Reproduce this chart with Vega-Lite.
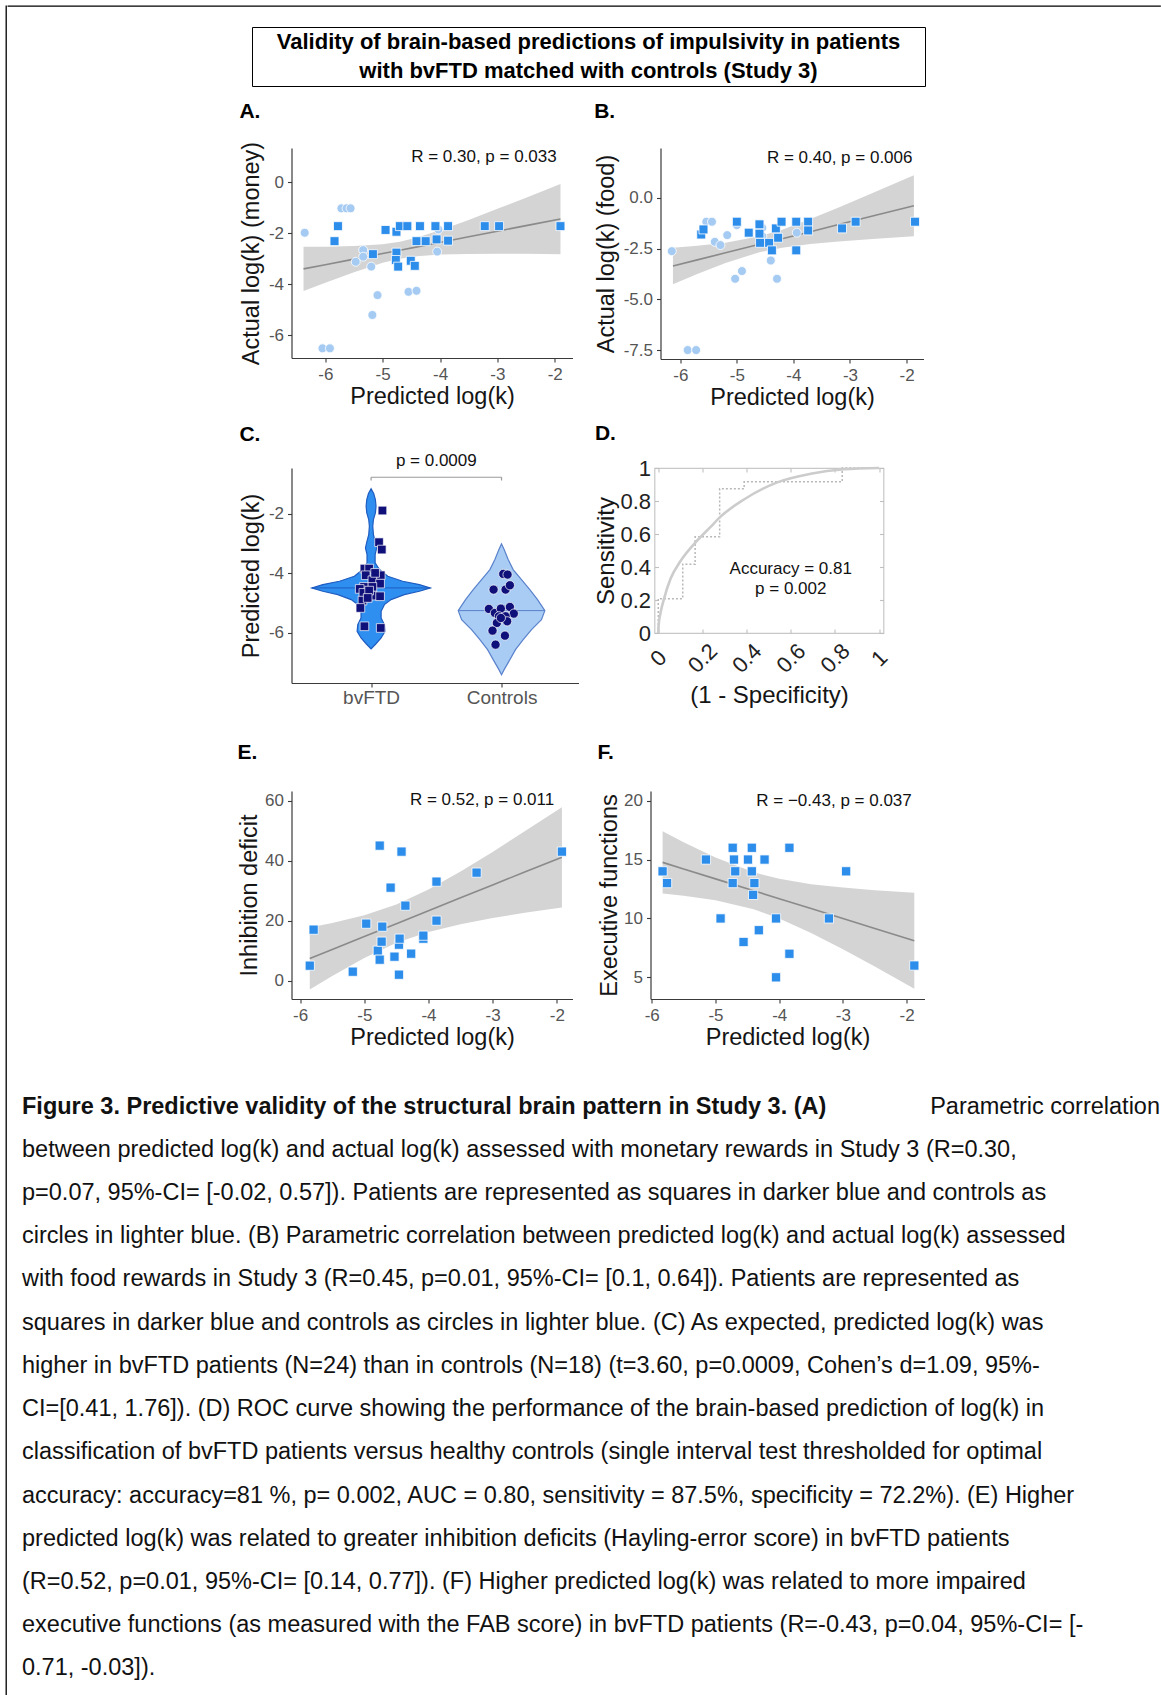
{
  "$schema": "https://vega.github.io/schema/vega-lite/v6.json",
  "background": "white",
  "padding": {"left": 5, "top": 5, "right": 0, "bottom": 0},
  "config": {
    "font": "Liberation Sans",
    "view": {"stroke": null},
    "axis": {"grid": false, "domainColor": "#3a3a3a", "domainWidth": 1.2, "tickColor": "#3a3a3a", "tickSize": 4, "tickWidth": 1.1, "labelColor": "#555555", "labelFontSize": 17, "labelPadding": 4, "labelFlush": false, "labelOverlap": false, "titleFontSize": 23.5, "titleFontWeight": "normal", "titleColor": "#151515"},
    "axisX": {"titlePadding": 2},
    "axisY": {"titlePadding": 5},
    "title": {"anchor": "start", "frame": "bounds", "fontSize": 21, "fontWeight": "bold", "color": "#000000"}
  },
  "datasets": {
    "ptsA": [
      {"x": -6.36, "y": -1.98, "g": "c"}, {"x": -5.72, "y": -1.02, "g": "c"}, {"x": -5.63, "y": -1.02, "g": "c"}, {"x": -5.56, "y": -1.02, "g": "c"}, {"x": -5.47, "y": -3.12, "g": "c"}, {"x": -5.34, "y": -2.66, "g": "c"}, {"x": -5.34, "y": -2.92, "g": "c"}, {"x": -5.2, "y": -3.31, "g": "c"}, {"x": -5.09, "y": -4.43, "g": "c"}, {"x": -5.18, "y": -5.21, "g": "c"}, {"x": -6.05, "y": -6.52, "g": "c"}, {"x": -5.92, "y": -6.52, "g": "c"}, {"x": -4.55, "y": -4.3, "g": "c"}, {"x": -4.41, "y": -4.26, "g": "c"}, {"x": -4.05, "y": -2.72, "g": "c"}, {"x": -4.03, "y": -1.85, "g": "c"},
      {"x": -5.78, "y": -1.72, "g": "p"}, {"x": -5.84, "y": -2.31, "g": "p"}, {"x": -5.17, "y": -2.82, "g": "p"}, {"x": -4.95, "y": -1.87, "g": "p"}, {"x": -4.76, "y": -1.94, "g": "p"}, {"x": -4.76, "y": -2.76, "g": "p"}, {"x": -4.77, "y": -3.05, "g": "p"}, {"x": -4.73, "y": -3.31, "g": "p"}, {"x": -4.7, "y": -1.72, "g": "p"}, {"x": -4.57, "y": -1.72, "g": "p"}, {"x": -4.51, "y": -3.08, "g": "p"}, {"x": -4.44, "y": -3.28, "g": "p"}, {"x": -4.41, "y": -2.31, "g": "p"}, {"x": -4.35, "y": -1.72, "g": "p"}, {"x": -4.25, "y": -2.31, "g": "p"}, {"x": -4.08, "y": -1.72, "g": "p"}, {"x": -4.06, "y": -2.24, "g": "p"}, {"x": -3.86, "y": -1.72, "g": "p"}, {"x": -3.86, "y": -2.29, "g": "p"}, {"x": -3.22, "y": -1.72, "g": "p"}, {"x": -2.97, "y": -1.72, "g": "p"}, {"x": -1.9, "y": -1.72, "g": "p"}
    ],
    "bandA": [
      {"x": -6.38, "fit": -3.4, "lo": -4.27, "hi": -2.53}, {"x": -6.0, "fit": -3.234, "lo": -3.94, "hi": -2.53}, {"x": -5.5, "fit": -3.015, "lo": -3.53, "hi": -2.5}, {"x": -5.0, "fit": -2.796, "lo": -3.16, "hi": -2.43}, {"x": -4.7, "fit": -2.665, "lo": -3.0, "hi": -2.33}, {"x": -4.4, "fit": -2.534, "lo": -2.9, "hi": -2.17}, {"x": -4.0, "fit": -2.359, "lo": -2.83, "hi": -1.88}, {"x": -3.5, "fit": -2.14, "lo": -2.81, "hi": -1.48}, {"x": -3.0, "fit": -1.921, "lo": -2.8, "hi": -1.04}, {"x": -2.5, "fit": -1.7, "lo": -2.8, "hi": -0.6}, {"x": -1.9, "fit": -1.44, "lo": -2.82, "hi": -0.06}
    ],
    "ptsB": [
      {"x": -6.15, "y": -2.63, "g": "c"}, {"x": -5.87, "y": -7.5, "g": "c"}, {"x": -5.72, "y": -7.5, "g": "c"}, {"x": -5.54, "y": -1.18, "g": "c"}, {"x": -5.44, "y": -1.18, "g": "c"}, {"x": -5.39, "y": -2.17, "g": "c"}, {"x": -5.29, "y": -2.33, "g": "c"}, {"x": -5.17, "y": -1.84, "g": "c"}, {"x": -5.03, "y": -3.99, "g": "c"}, {"x": -4.91, "y": -3.61, "g": "c"}, {"x": -5.0, "y": -1.35, "g": "c"}, {"x": -4.55, "y": -1.89, "g": "c"}, {"x": -4.4, "y": -3.09, "g": "c"}, {"x": -4.29, "y": -3.99, "g": "c"}, {"x": -3.94, "y": -1.72, "g": "c"}, {"x": -4.55, "y": -1.48, "g": "c"},
      {"x": -5.63, "y": -1.81, "g": "p"}, {"x": -5.59, "y": -1.56, "g": "p"}, {"x": -5.0, "y": -1.18, "g": "p"}, {"x": -4.79, "y": -1.72, "g": "p"}, {"x": -4.6, "y": -1.31, "g": "p"}, {"x": -4.6, "y": -1.77, "g": "p"}, {"x": -4.59, "y": -2.22, "g": "p"}, {"x": -4.43, "y": -2.22, "g": "p"}, {"x": -4.38, "y": -2.59, "g": "p"}, {"x": -4.31, "y": -1.51, "g": "p"}, {"x": -4.27, "y": -1.97, "g": "p"}, {"x": -4.21, "y": -1.18, "g": "p"}, {"x": -3.95, "y": -1.18, "g": "p"}, {"x": -3.95, "y": -2.59, "g": "p"}, {"x": -3.74, "y": -1.18, "g": "p"}, {"x": -3.74, "y": -1.61, "g": "p"}, {"x": -3.14, "y": -1.51, "g": "p"}, {"x": -2.9, "y": -1.18, "g": "p"}, {"x": -1.85, "y": -1.18, "g": "p"}
    ],
    "bandB": [
      {"x": -6.13, "fit": -3.36, "lo": -4.26, "hi": -2.46}, {"x": -5.7, "fit": -3.06, "lo": -3.76, "hi": -2.36}, {"x": -5.2, "fit": -2.71, "lo": -3.21, "hi": -2.21}, {"x": -4.6, "fit": -2.29, "lo": -2.68, "hi": -1.9}, {"x": -4.2, "fit": -2.015, "lo": -2.46, "hi": -1.57}, {"x": -3.7, "fit": -1.67, "lo": -2.28, "hi": -1.05}, {"x": -3.2, "fit": -1.32, "lo": -2.16, "hi": -0.48}, {"x": -2.6, "fit": -0.9, "lo": -2.03, "hi": 0.23}, {"x": -1.87, "fit": -0.39, "lo": -1.89, "hi": 1.11}
    ],
    "violin": [
      {"g": "bvFTD", "y": -1.16, "lo": 1, "hi": 1}, {"g": "bvFTD", "y": -1.317, "lo": 0.98, "hi": 1.02}, {"g": "bvFTD", "y": -1.518, "lo": 0.967, "hi": 1.033}, {"g": "bvFTD", "y": -1.742, "lo": 0.962, "hi": 1.038}, {"g": "bvFTD", "y": -1.966, "lo": 0.967, "hi": 1.033}, {"g": "bvFTD", "y": -2.19, "lo": 0.982, "hi": 1.018}, {"g": "bvFTD", "y": -2.415, "lo": 0.987, "hi": 1.013}, {"g": "bvFTD", "y": -2.695, "lo": 0.982, "hi": 1.018}, {"g": "bvFTD", "y": -2.952, "lo": 0.967, "hi": 1.033}, {"g": "bvFTD", "y": -3.143, "lo": 0.957, "hi": 1.043}, {"g": "bvFTD", "y": -3.367, "lo": 0.969, "hi": 1.031}, {"g": "bvFTD", "y": -3.647, "lo": 0.969, "hi": 1.031}, {"g": "bvFTD", "y": -3.871, "lo": 0.936, "hi": 1.064}, {"g": "bvFTD", "y": -4.095, "lo": 0.872, "hi": 1.128}, {"g": "bvFTD", "y": -4.263, "lo": 0.758, "hi": 1.242}, {"g": "bvFTD", "y": -4.375, "lo": 0.63, "hi": 1.37}, {"g": "bvFTD", "y": -4.487, "lo": 0.546, "hi": 1.454}, {"g": "bvFTD", "y": -4.599, "lo": 0.63, "hi": 1.37}, {"g": "bvFTD", "y": -4.711, "lo": 0.745, "hi": 1.255}, {"g": "bvFTD", "y": -4.88, "lo": 0.847, "hi": 1.153}, {"g": "bvFTD", "y": -5.048, "lo": 0.898, "hi": 1.102}, {"g": "bvFTD", "y": -5.272, "lo": 0.923, "hi": 1.077}, {"g": "bvFTD", "y": -5.496, "lo": 0.923, "hi": 1.077}, {"g": "bvFTD", "y": -5.72, "lo": 0.898, "hi": 1.102}, {"g": "bvFTD", "y": -5.944, "lo": 0.893, "hi": 1.107}, {"g": "bvFTD", "y": -6.168, "lo": 0.923, "hi": 1.077}, {"g": "bvFTD", "y": -6.37, "lo": 0.964, "hi": 1.036}, {"g": "bvFTD", "y": -6.538, "lo": 1, "hi": 1},
      {"g": "Controls", "y": -3.008, "lo": 2, "hi": 2}, {"g": "Controls", "y": -3.199, "lo": 1.98, "hi": 2.02}, {"g": "Controls", "y": -3.535, "lo": 1.949, "hi": 2.051}, {"g": "Controls", "y": -3.871, "lo": 1.911, "hi": 2.089}, {"g": "Controls", "y": -4.207, "lo": 1.847, "hi": 2.153}, {"g": "Controls", "y": -4.543, "lo": 1.783, "hi": 2.217}, {"g": "Controls", "y": -4.88, "lo": 1.724, "hi": 2.276}, {"g": "Controls", "y": -5.249, "lo": 1.668, "hi": 2.332}, {"g": "Controls", "y": -5.552, "lo": 1.694, "hi": 2.306}, {"g": "Controls", "y": -5.888, "lo": 1.77, "hi": 2.23}, {"g": "Controls", "y": -6.224, "lo": 1.834, "hi": 2.166}, {"g": "Controls", "y": -6.56, "lo": 1.893, "hi": 2.107}, {"g": "Controls", "y": -6.896, "lo": 1.936, "hi": 2.064}, {"g": "Controls", "y": -7.232, "lo": 1.98, "hi": 2.02}, {"g": "Controls", "y": -7.401, "lo": 2, "hi": 2}
    ],
    "medians": [
      {"g": "bvFTD", "m": -4.487, "lo": 0.546, "hi": 1.454},
      {"g": "Controls", "m": -5.249, "lo": 1.668, "hi": 2.332}
    ],
    "ptsC": [
      {"g": "bvFTD", "x": 1.087, "y": -1.888}, {"g": "bvFTD", "x": 1.061, "y": -2.952}, {"g": "bvFTD", "x": 1.082, "y": -3.199}, {"g": "bvFTD", "x": 0.949, "y": -3.838}, {"g": "bvFTD", "x": 0.985, "y": -3.838}, {"g": "bvFTD", "x": 0.959, "y": -4.062}, {"g": "bvFTD", "x": 1.074, "y": -4.062}, {"g": "bvFTD", "x": 1.01, "y": -4.23}, {"g": "bvFTD", "x": 1.069, "y": -4.342}, {"g": "bvFTD", "x": 0.946, "y": -4.454}, {"g": "bvFTD", "x": 1.01, "y": -4.454}, {"g": "bvFTD", "x": 0.913, "y": -4.521}, {"g": "bvFTD", "x": 0.941, "y": -4.655}, {"g": "bvFTD", "x": 1.01, "y": -4.745}, {"g": "bvFTD", "x": 1.069, "y": -4.767}, {"g": "bvFTD", "x": 0.934, "y": -4.913}, {"g": "bvFTD", "x": 0.918, "y": -5.16}, {"g": "bvFTD", "x": 0.949, "y": -5.776}, {"g": "bvFTD", "x": 1.074, "y": -5.832}, {"g": "bvFTD", "x": 1.031, "y": -3.983}, {"g": "bvFTD", "x": 0.985, "y": -4.577}, {"g": "bvFTD", "x": 0.974, "y": -4.824},
      {"g": "Controls", "x": 2.013, "y": -4.017}, {"g": "Controls", "x": 2.046, "y": -4.039}, {"g": "Controls", "x": 1.939, "y": -4.543}, {"g": "Controls", "x": 2.031, "y": -4.543}, {"g": "Controls", "x": 2.064, "y": -4.398}, {"g": "Controls", "x": 1.903, "y": -5.193}, {"g": "Controls", "x": 1.949, "y": -5.328}, {"g": "Controls", "x": 1.995, "y": -5.182}, {"g": "Controls", "x": 2.064, "y": -5.126}, {"g": "Controls", "x": 2.094, "y": -5.35}, {"g": "Controls", "x": 1.98, "y": -5.44}, {"g": "Controls", "x": 2.031, "y": -5.44}, {"g": "Controls", "x": 2.043, "y": -5.608}, {"g": "Controls", "x": 1.964, "y": -5.664}, {"g": "Controls", "x": 1.931, "y": -5.922}, {"g": "Controls", "x": 2.026, "y": -6.09}, {"g": "Controls", "x": 1.954, "y": -6.392}, {"g": "Controls", "x": 1.995, "y": -5.496}
    ],
    "bracket": [
      {"x": 1, "x2": 2, "y": -0.77, "y2": -0.77}, {"x": 1, "x2": 1, "y": -0.77, "y2": -0.88}, {"x": 2, "x2": 2, "y": -0.77, "y2": -0.88}
    ],
    "rocSteps": [
      {"i": 0, "x": 0, "y": 0}, {"i": 1, "x": 0, "y": 0.208}, {"i": 2, "x": 0.111, "y": 0.208}, {"i": 3, "x": 0.111, "y": 0.417}, {"i": 4, "x": 0.167, "y": 0.417}, {"i": 5, "x": 0.167, "y": 0.583}, {"i": 6, "x": 0.278, "y": 0.583}, {"i": 7, "x": 0.278, "y": 0.875}, {"i": 8, "x": 0.389, "y": 0.875}, {"i": 9, "x": 0.389, "y": 0.917}, {"i": 10, "x": 0.833, "y": 0.917}, {"i": 11, "x": 0.833, "y": 1}, {"i": 12, "x": 1, "y": 1}
    ],
    "rocSmooth": [
      {"x": 0, "y": 0}, {"x": 0.002, "y": 0.05}, {"x": 0.0106, "y": 0.124}, {"x": 0.026, "y": 0.207}, {"x": 0.056, "y": 0.33}, {"x": 0.101, "y": 0.436}, {"x": 0.162, "y": 0.539}, {"x": 0.237, "y": 0.643}, {"x": 0.282, "y": 0.705}, {"x": 0.388, "y": 0.809}, {"x": 0.539, "y": 0.913}, {"x": 0.69, "y": 0.965}, {"x": 0.841, "y": 0.992}, {"x": 1, "y": 1}
    ],
    "ptsE": [
      {"x": -5.85, "y": 5}, {"x": -5.79, "y": 17}, {"x": -5.18, "y": 3}, {"x": -4.97, "y": 19}, {"x": -4.76, "y": 45}, {"x": -4.79, "y": 10}, {"x": -4.76, "y": 7}, {"x": -4.73, "y": 13}, {"x": -4.72, "y": 18}, {"x": -4.59, "y": 31}, {"x": -4.53, "y": 8}, {"x": -4.46, "y": 12}, {"x": -4.46, "y": 2}, {"x": -4.45, "y": 14}, {"x": -4.42, "y": 43}, {"x": -4.36, "y": 25}, {"x": -4.27, "y": 9}, {"x": -4.08, "y": 14}, {"x": -4.08, "y": 15}, {"x": -3.875, "y": 33}, {"x": -3.875, "y": 20}, {"x": -3.25, "y": 36}, {"x": -1.92, "y": 43}
    ],
    "bandE": [
      {"x": -5.85, "fit": 7.4, "lo": -2.9, "hi": 17.7}, {"x": -5.5, "fit": 10.4, "lo": 1.6, "hi": 19.2}, {"x": -5.0, "fit": 14.7, "lo": 7.6, "hi": 21.8}, {"x": -4.5, "fit": 19.0, "lo": 12.6, "hi": 25.4}, {"x": -4.0, "fit": 23.3, "lo": 16.2, "hi": 30.4}, {"x": -3.5, "fit": 27.6, "lo": 18.8, "hi": 36.4}, {"x": -3.0, "fit": 31.9, "lo": 20.9, "hi": 42.9}, {"x": -2.5, "fit": 36.2, "lo": 22.6, "hi": 49.8}, {"x": -1.92, "fit": 41.1, "lo": 24.4, "hi": 57.8}
    ],
    "ptsF": [
      {"x": -5.83, "y": 14}, {"x": -5.76, "y": 13}, {"x": -5.15, "y": 15}, {"x": -4.92, "y": 10}, {"x": -4.73, "y": 16}, {"x": -4.71, "y": 15}, {"x": -4.69, "y": 14}, {"x": -4.73, "y": 13}, {"x": -4.56, "y": 8}, {"x": -4.49, "y": 15}, {"x": -4.43, "y": 16}, {"x": -4.43, "y": 14}, {"x": -4.39, "y": 13}, {"x": -4.41, "y": 12}, {"x": -4.32, "y": 9}, {"x": -4.23, "y": 15}, {"x": -4.05, "y": 10}, {"x": -4.05, "y": 5}, {"x": -3.84, "y": 16}, {"x": -3.84, "y": 7}, {"x": -3.22, "y": 10}, {"x": -2.95, "y": 14}, {"x": -1.88, "y": 6}
    ],
    "bandF": [
      {"x": -5.83, "fit": 14.76, "lo": 12.11, "hi": 17.41}, {"x": -5.5, "fit": 14.2, "lo": 11.93, "hi": 16.47}, {"x": -5.0, "fit": 13.36, "lo": 11.55, "hi": 15.17}, {"x": -4.4, "fit": 12.35, "lo": 10.78, "hi": 13.92}, {"x": -4.0, "fit": 11.68, "lo": 10.0, "hi": 13.36}, {"x": -3.5, "fit": 10.84, "lo": 8.77, "hi": 12.91}, {"x": -3.0, "fit": 10.0, "lo": 7.38, "hi": 12.62}, {"x": -2.5, "fit": 9.15, "lo": 5.91, "hi": 12.39}, {"x": -1.88, "fit": 8.11, "lo": 4.03, "hi": 12.19}
    ],
    "titleLines": [
      {"l": 1, "t": "Validity of brain-based predictions of impulsivity in patients"},
      {"l": 2, "t": "with bvFTD matched with controls (Study 3)"}
    ],
    "caption": [
      {"line": 1, "k": "B", "t": "Figure 3. Predictive validity of the structural brain pattern in Study 3. (A)"},
      {"line": 1, "k": "R", "t": "Parametric correlation"},
      {"line": 2, "k": "L", "t": "between predicted log(k) and actual log(k) assessed with monetary rewards in Study 3 (R=0.30,"},
      {"line": 3, "k": "L", "t": "p=0.07, 95%-CI= [-0.02, 0.57]). Patients are represented as squares in darker blue and controls as"},
      {"line": 4, "k": "L", "t": "circles in lighter blue. (B) Parametric correlation between predicted log(k) and actual log(k) assessed"},
      {"line": 5, "k": "L", "t": "with food rewards in Study 3 (R=0.45, p=0.01, 95%-CI= [0.1, 0.64]). Patients are represented as"},
      {"line": 6, "k": "L", "t": "squares in darker blue and controls as circles in lighter blue. (C) As expected, predicted log(k) was"},
      {"line": 7, "k": "L", "t": "higher in bvFTD patients (N=24) than in controls (N=18) (t=3.60, p=0.0009, Cohen’s d=1.09, 95%-"},
      {"line": 8, "k": "L", "t": "CI=[0.41, 1.76]). (D) ROC curve showing the performance of the brain-based prediction of log(k) in"},
      {"line": 9, "k": "L", "t": "classification of bvFTD patients versus healthy controls (single interval test thresholded for optimal"},
      {"line": 10, "k": "L", "t": "accuracy: accuracy=81 %, p= 0.002, AUC = 0.80, sensitivity = 87.5%, specificity = 72.2%). (E) Higher"},
      {"line": 11, "k": "L", "t": "predicted log(k) was related to greater inhibition deficits (Hayling-error score) in bvFTD patients"},
      {"line": 12, "k": "L", "t": "(R=0.52, p=0.01, 95%-CI= [0.14, 0.77]). (F) Higher predicted log(k) was related to more impaired"},
      {"line": 13, "k": "L", "t": "executive functions (as measured with the FAB score) in bvFTD patients (R=-0.43, p=0.04, 95%-CI= [-"},
      {"line": 14, "k": "L", "t": "0.71, -0.03])."}
    ]
  },
  "spacing": 0,
  "hconcat": [
    {"width": 0.01, "height": 1690, "view": {"stroke": "#000000", "strokeWidth": 1.3}, "data": {"values": []}, "mark": "text", "encoding": {"text": {"value": ""}}},
    {
      "spacing": 19,
      "vconcat": [
        {"width": 1152, "height": 0.01, "view": {"stroke": "#000000", "strokeWidth": 1.3}, "data": {"values": []}, "mark": "text", "encoding": {"text": {"value": ""}}},
        {
          "spacing": 13,
          "hconcat": [
            {"width": 0.01, "height": 0.01, "data": {"values": []}, "mark": "text", "encoding": {"text": {"value": ""}}},
            {
              "spacing": 36,
              "vconcat": [
                {
                  "spacing": 200,
                  "hconcat": [
                    {"width": 0.01, "height": 0.01, "data": {"values": []}, "mark": "text", "encoding": {"text": {"value": ""}}},
                    {
                      "spacing": 14,
                      "vconcat": [
                        {
                          "spacing": 27,
                          "hconcat": [
                            {"width": 0.01, "height": 0.01, "data": {"values": []}, "mark": "text", "encoding": {"text": {"value": ""}}},
                            {"width": 673, "height": 59, "view": {"stroke": "#000000", "strokeWidth": 1}, "data": {"name": "titleLines"},
                             "mark": {"type": "text", "fontSize": 22, "fontWeight": "bold", "align": "center", "baseline": "middle", "color": "#000000"},
                             "encoding": {"y": {"field": "l", "type": "ordinal", "axis": null, "scale": {"paddingInner": 0, "paddingOuter": 0.135}}, "text": {"field": "t"}}}
                          ]
                        },
                        {
                          "spacing": 13.5,
                          "hconcat": [
                            {"width": 0.01, "height": 0.01, "data": {"values": []}, "mark": "text", "encoding": {"text": {"value": ""}}},
                            {
                              "spacing": 33,
                              "vconcat": [
                                {
                                  "spacing": 12,
                                  "vconcat": [
                                    {
                                      "spacing": 21,
                                      "hconcat": [
                                        {
                                          "width": 281, "height": 210,
                                          "title": {"text": "A.", "offset": 19},
                                          "layer": [
                                            {"data": {"name": "bandA"}, "mark": {"type": "area", "color": "#d4d4d4", "opacity": 1},
                                             "encoding": {
                                               "x": {"field": "x", "type": "quantitative", "scale": {"domain": [-6.59, -1.69], "nice": false, "zero": false}, "axis": {"title": "Predicted log(k)", "values": [-6, -5, -4, -3, -2], "labelExpr": "toString(datum.value)"}},
                                               "y": {"field": "lo", "type": "quantitative", "scale": {"domain": [-6.9, 1.35], "nice": false, "zero": false}, "axis": {"title": "Actual log(k) (money)", "values": [0, -2, -4, -6], "labelExpr": "toString(datum.value)"}},
                                               "y2": {"field": "hi"}}},
                                            {"data": {"name": "bandA"}, "mark": {"type": "line", "color": "#8a8a8a", "strokeWidth": 1.6},
                                             "encoding": {"x": {"field": "x", "type": "quantitative"}, "y": {"field": "fit", "type": "quantitative"}}},
                                            {"data": {"name": "ptsA"}, "mark": {"type": "point", "filled": true, "opacity": 1, "size": 80, "stroke": "white", "strokeWidth": 0.8},
                                             "encoding": {"x": {"field": "x", "type": "quantitative"}, "y": {"field": "y", "type": "quantitative"},
                                               "shape": {"field": "g", "type": "nominal", "scale": {"domain": ["c", "p"], "range": ["circle", "square"]}, "legend": null},
                                               "color": {"field": "g", "type": "nominal", "scale": {"domain": ["c", "p"], "range": ["#a5cbf3", "#2d8deb"]}, "legend": null}}},
                                            {"data": {"values": [{}]}, "mark": {"type": "text", "align": "right", "baseline": "middle", "fontSize": 17, "color": "#111111"},
                                             "encoding": {"x": {"datum": -1.965}, "y": {"datum": 1.0}, "text": {"value": "R = 0.30, p = 0.033"}}}
                                          ]
                                        },
                                        {
                                          "width": 263, "height": 211,
                                          "title": {"text": "B.", "offset": 26},
                                          "layer": [
                                            {"data": {"name": "bandB"}, "mark": {"type": "area", "color": "#d4d4d4", "opacity": 1},
                                             "encoding": {
                                               "x": {"field": "x", "type": "quantitative", "scale": {"domain": [-6.35, -1.7], "nice": false, "zero": false}, "axis": {"title": "Predicted log(k)", "values": [-6, -5, -4, -3, -2], "labelExpr": "toString(datum.value)"}},
                                               "y": {"field": "lo", "type": "quantitative", "scale": {"domain": [-7.94, 2.45], "nice": false, "zero": false}, "axis": {"title": "Actual log(k) (food)", "values": [0, -2.5, -5, -7.5], "labelExpr": "replace(format(datum.value, '.1f'), '\u2212', '-')"}},
                                               "y2": {"field": "hi"}}},
                                            {"data": {"name": "bandB"}, "mark": {"type": "line", "color": "#8a8a8a", "strokeWidth": 1.6},
                                             "encoding": {"x": {"field": "x", "type": "quantitative"}, "y": {"field": "fit", "type": "quantitative"}}},
                                            {"data": {"name": "ptsB"}, "mark": {"type": "point", "filled": true, "opacity": 1, "size": 80, "stroke": "white", "strokeWidth": 0.8},
                                             "encoding": {"x": {"field": "x", "type": "quantitative"}, "y": {"field": "y", "type": "quantitative"},
                                               "shape": {"field": "g", "type": "nominal", "scale": {"domain": ["c", "p"], "range": ["circle", "square"]}, "legend": null},
                                               "color": {"field": "g", "type": "nominal", "scale": {"domain": ["c", "p"], "range": ["#a5cbf3", "#2d8deb"]}, "legend": null}}},
                                            {"data": {"values": [{}]}, "mark": {"type": "text", "align": "right", "baseline": "middle", "fontSize": 17, "color": "#111111"},
                                             "encoding": {"x": {"datum": -1.895}, "y": {"datum": 1.97}, "text": {"value": "R = 0.40, p = 0.006"}}}
                                          ]
                                        }
                                      ]
                                    },
                                    {
                                      "spacing": 15,
                                      "hconcat": [
                                        {
                                          "width": 287, "height": 215,
                                          "title": {"text": "C.", "offset": 7},
                                          "layer": [
                                            {"data": {"name": "violin"}, "mark": {"type": "area", "orient": "horizontal", "strokeWidth": 1.2, "opacity": 1},
                                             "encoding": {
                                               "y": {"field": "y", "type": "quantitative", "scale": {"domain": [-7.68, -0.46], "nice": false, "zero": false}, "axis": {"title": "Predicted log(k)", "values": [-2, -4, -6], "labelExpr": "toString(datum.value)"}},
                                               "x": {"field": "lo", "type": "quantitative", "scale": {"domain": [0.39, 2.59], "nice": false, "zero": false}, "axis": {"title": null, "values": [1, 2], "labelExpr": "datum.value == 1 ? 'bvFTD' : 'Controls'", "labelFontSize": 19, "labelPadding": 1}},
                                               "x2": {"field": "hi"},
                                               "fill": {"field": "g", "type": "nominal", "scale": {"domain": ["bvFTD", "Controls"], "range": ["#2f8ff0", "#a8ccf4"]}, "legend": null},
                                               "stroke": {"field": "g", "type": "nominal", "scale": {"domain": ["bvFTD", "Controls"], "range": ["#1f5cc0", "#5a82cc"]}, "legend": null}}},
                                            {"data": {"name": "medians"}, "mark": {"type": "rule", "strokeWidth": 1},
                                             "encoding": {"x": {"field": "lo", "type": "quantitative"}, "x2": {"field": "hi"}, "y": {"field": "m", "type": "quantitative"},
                                               "stroke": {"field": "g", "type": "nominal", "legend": null}}},
                                            {"data": {"name": "ptsC"}, "transform": [{"filter": "datum.g == 'bvFTD'"}], "mark": {"type": "square", "size": 75, "color": "#10107a", "opacity": 1, "stroke": "white", "strokeWidth": 0.7},
                                             "encoding": {"x": {"field": "x", "type": "quantitative"}, "y": {"field": "y", "type": "quantitative"}}},
                                            {"data": {"name": "ptsC"}, "transform": [{"filter": "datum.g == 'Controls'"}], "mark": {"type": "circle", "size": 85, "color": "#10107a", "opacity": 1, "stroke": "white", "strokeWidth": 0.7},
                                             "encoding": {"x": {"field": "x", "type": "quantitative"}, "y": {"field": "y", "type": "quantitative"}}},
                                            {"data": {"name": "bracket"}, "mark": {"type": "rule", "color": "#9a9a9a", "strokeWidth": 1.2},
                                             "encoding": {"x": {"field": "x", "type": "quantitative"}, "x2": {"field": "x2"}, "y": {"field": "y", "type": "quantitative"}, "y2": {"field": "y2"}}},
                                            {"data": {"values": [{}]}, "mark": {"type": "text", "align": "center", "baseline": "alphabetic", "fontSize": 17, "color": "#111111"},
                                             "encoding": {"x": {"datum": 1.5}, "y": {"datum": -0.4}, "text": {"value": "p = 0.0009"}}}
                                          ]
                                        },
                                        {
                                          "width": 229, "height": 165,
                                          "title": {"text": "D.", "offset": 13.5},
                                          "view": {"stroke": "#c8c8c8", "strokeWidth": 1.2},
                                          "resolve": {"axis": {"x": "independent", "y": "independent"}},
                                          "layer": [
                                            {"data": {"name": "rocSteps"}, "mark": {"type": "line", "color": "#b8b8b8", "strokeWidth": 1.5, "strokeDash": [2, 2]},
                                             "encoding": {
                                               "x": {"field": "x", "type": "quantitative", "scale": {"domain": [-0.017, 1.02], "nice": false, "zero": false},
                                                     "axis": {"title": "(1 - Specificity)", "values": [0, 0.2, 0.4, 0.6, 0.8, 1], "format": "~g", "labelAngle": -45, "labelAlign": "center", "labelBaseline": "middle", "labelFontSize": 22, "labelColor": "#222222", "labelPadding": 29, "labelOverlap": false, "domain": false, "tickSize": -4, "tickColor": "#c0c0c0", "titlePadding": 7, "titleFontSize": 24}},
                                               "y": {"field": "y", "type": "quantitative", "scale": {"domain": [0, 1], "nice": false},
                                                     "axis": {"title": "Sensitivity", "values": [0, 0.2, 0.4, 0.6, 0.8, 1], "format": "~g", "labelFontSize": 22, "labelColor": "#222222", "labelPadding": 8, "labelOverlap": false, "domain": false, "tickSize": -4, "tickColor": "#c0c0c0", "titlePadding": 1, "titleFontSize": 24}},
                                               "order": {"field": "i", "type": "quantitative"}}},
                                            {"data": {"name": "rocSmooth"}, "mark": {"type": "line", "color": "#cccccc", "strokeWidth": 2.6, "interpolate": "monotone"},
                                             "encoding": {
                                               "x": {"field": "x", "type": "quantitative", "axis": {"orient": "top", "title": null, "labels": false, "domain": false, "values": [0, 0.2, 0.4, 0.6, 0.8, 1], "tickSize": -4, "tickColor": "#c0c0c0"}},
                                               "y": {"field": "y", "type": "quantitative", "axis": {"orient": "right", "title": null, "labels": false, "domain": false, "values": [0, 0.2, 0.4, 0.6, 0.8, 1], "tickSize": -4, "tickColor": "#c0c0c0"}}}},
                                            {"data": {"values": [{}]}, "mark": {"type": "text", "fontSize": 17, "align": "center", "baseline": "middle", "lineHeight": 20, "color": "#111111"},
                                             "encoding": {"x": {"datum": 0.6, "axis": null}, "y": {"datum": 0.39, "axis": null}, "text": {"value": ["Accuracy = 0.81", "p = 0.002"]}}}
                                          ]
                                        }
                                      ]
                                    }
                                  ]
                                },
                                {
                                  "spacing": 25,
                                  "hconcat": [
                                    {
                                      "width": 281, "height": 208,
                                      "title": {"text": "E.", "offset": 28},
                                      "layer": [
                                        {"data": {"name": "bandE"}, "mark": {"type": "area", "color": "#d4d4d4", "opacity": 1},
                                         "encoding": {
                                           "x": {"field": "x", "type": "quantitative", "scale": {"domain": [-6.135, -1.755], "nice": false, "zero": false}, "axis": {"title": "Predicted log(k)", "values": [-6, -5, -4, -3, -2], "labelExpr": "toString(datum.value)"}},
                                           "y": {"field": "lo", "type": "quantitative", "scale": {"domain": [-6.1, 63.2], "nice": false, "zero": false}, "axis": {"title": "Inhibition deficit", "values": [0, 20, 40, 60], "titlePadding": 3}},
                                           "y2": {"field": "hi"}}},
                                        {"data": {"name": "bandE"}, "mark": {"type": "line", "color": "#8a8a8a", "strokeWidth": 1.6},
                                         "encoding": {"x": {"field": "x", "type": "quantitative"}, "y": {"field": "fit", "type": "quantitative"}}},
                                        {"data": {"name": "ptsE"}, "mark": {"type": "square", "size": 85, "color": "#2d8deb", "opacity": 1, "stroke": "white", "strokeWidth": 0.8},
                                         "encoding": {"x": {"field": "x", "type": "quantitative"}, "y": {"field": "y", "type": "quantitative"}}},
                                        {"data": {"values": [{}]}, "mark": {"type": "text", "align": "right", "baseline": "middle", "fontSize": 17, "color": "#111111"},
                                         "encoding": {"x": {"datum": -2.04}, "y": {"datum": 60.1}, "text": {"value": "R = 0.52, p = 0.011"}}}
                                      ]
                                    },
                                    {
                                      "width": 274, "height": 208,
                                      "title": {"text": "F.", "offset": 28},
                                      "layer": [
                                        {"data": {"name": "bandF"}, "mark": {"type": "area", "color": "#d4d4d4", "opacity": 1},
                                         "encoding": {
                                           "x": {"field": "x", "type": "quantitative", "scale": {"domain": [-6.02, -1.72], "nice": false, "zero": false}, "axis": {"title": "Predicted log(k)", "values": [-6, -5, -4, -3, -2], "labelExpr": "toString(datum.value)"}},
                                           "y": {"field": "lo", "type": "quantitative", "scale": {"domain": [3.16, 20.82], "nice": false, "zero": false}, "axis": {"title": "Executive functions", "values": [5, 10, 15, 20], "titlePadding": 2}},
                                           "y2": {"field": "hi"}}},
                                        {"data": {"name": "bandF"}, "mark": {"type": "line", "color": "#8a8a8a", "strokeWidth": 1.6},
                                         "encoding": {"x": {"field": "x", "type": "quantitative"}, "y": {"field": "fit", "type": "quantitative"}}},
                                        {"data": {"name": "ptsF"}, "mark": {"type": "square", "size": 85, "color": "#2d8deb", "opacity": 1, "stroke": "white", "strokeWidth": 0.8},
                                         "encoding": {"x": {"field": "x", "type": "quantitative"}, "y": {"field": "y", "type": "quantitative"}}},
                                        {"data": {"values": [{}]}, "mark": {"type": "text", "align": "right", "baseline": "middle", "fontSize": 17, "color": "#111111"},
                                         "encoding": {"x": {"datum": -1.92}, "y": {"datum": 20.0}, "text": {"value": "R = −0.43, p = 0.037"}}}
                                      ]
                                    }
                                  ]
                                }
                              ]
                            }
                          ]
                        }
                      ]
                    }
                  ]
                },
                {
                  "width": 1138, "height": 605,
                  "data": {"name": "caption"},
                  "encoding": {
                    "y": {"field": "line", "type": "ordinal", "axis": null, "scale": {"domain": [1, 2, 3, 4, 5, 6, 7, 8, 9, 10, 11, 12, 13, 14], "paddingInner": 0, "paddingOuter": 0}},
                    "text": {"field": "t"}
                  },
                  "layer": [
                    {"transform": [{"filter": "datum.k == 'L'"}], "mark": {"type": "text", "align": "left", "baseline": "middle", "fontSize": 23.5, "color": "#111111"}, "encoding": {"x": {"value": 0}}},
                    {"transform": [{"filter": "datum.k == 'B'"}], "mark": {"type": "text", "align": "left", "baseline": "middle", "fontSize": 23.5, "fontWeight": "bold", "color": "#111111"}, "encoding": {"x": {"value": 0}}},
                    {"transform": [{"filter": "datum.k == 'R'"}], "mark": {"type": "text", "align": "right", "baseline": "middle", "fontSize": 23.5, "color": "#111111"}, "encoding": {"x": {"value": "width"}}}
                  ]
                }
              ]
            }
          ]
        }
      ]
    }
  ]
}
